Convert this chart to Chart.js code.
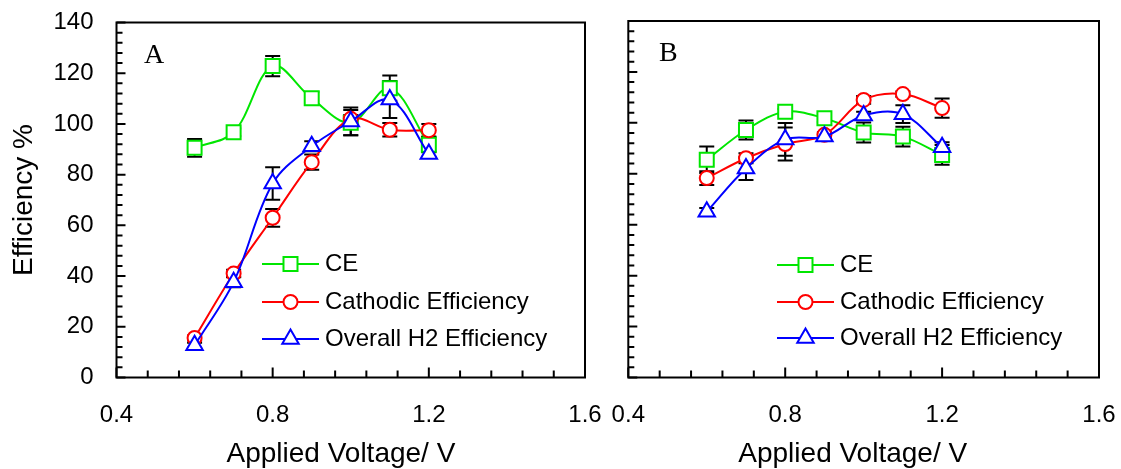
<!DOCTYPE html>
<html>
<head>
<meta charset="utf-8">
<title>Efficiency vs Applied Voltage</title>
<script src="https://cdn.jsdelivr.net/npm/chart.js@4.4.1/dist/chart.umd.min.js"></script>
<style>
  html, body { margin: 0; padding: 0; background: #fff; }
  #wrap { position: relative; width: 1121px; height: 469px; overflow: hidden; }
  #wrap canvas { position: absolute; top: 0; }
</style>
</head>
<body>
<div id="wrap">
  <canvas id="chartA" width="610" height="469" style="left:0"></canvas>
  <canvas id="chartB" width="525" height="469" style="left:596px"></canvas>
</div>
<script>
// applied voltage (V), same for both panels
const voltage = [0.6, 0.7, 0.8, 0.9, 1.0, 1.1, 1.2];

// panel A
const ceA        = [90.6, 96.7, 122.8, 110.1, 100.5, 114.1, 91.8];
const ceErrA     = [3.5, 1.5, 4.0, 2.5, 5.0, 5.0, 3.0];
const cathodicA  = [15.6, 41.0, 63.0, 84.9, 102.0, 97.7, 97.5];
const cathErrA   = [1.0, 1.5, 3.5, 3.0, 1.5, 2.7, 2.5];
const h2A        = [12.7, 37.6, 76.5, 91.2, 101.0, 109.6, 88.1];
const h2ErrA     = [1.0, 2.0, 6.4, 2.0, 5.5, 7.3, 1.0];

// panel B
const ceB        = [85.5, 97.2, 104.4, 101.8, 96.2, 94.6, 87.4];
const ceErrB     = [5.2, 3.7, 1.0, 1.5, 3.9, 3.9, 3.9];
const cathodicB  = [78.3, 86.1, 91.7, 95.3, 109.0, 111.3, 105.8];
const cathErrB   = [2.7, 2.0, 6.5, 1.0, 1.5, 1.0, 3.8];
const h2B        = [65.1, 82.1, 93.5, 94.6, 102.9, 103.4, 90.4];
const h2ErrB     = [1.5, 4.5, 6.4, 1.0, 1.5, 3.5, 2.0];

const seriesNames = ['CE', 'Cathodic Efficiency', 'Overall H2 Efficiency'];
const xTitle = 'Applied Voltage/ V';
const yTitle = 'Efficiency %';

const GREEN = '#00e600', RED = '#ff0000', BLUE = '#0000ff';
const FONT = '"Liberation Sans", Arial, sans-serif';

const isMajorX = v => Math.round(v * 100) % 40 === 0;
const isMajorY = v => Math.round(v) % 20 === 0;

function drawMarker(ctx, style, x, y, r, color) {
  ctx.save();
  ctx.fillStyle = '#fff';
  ctx.strokeStyle = color;
  ctx.lineWidth = 2;
  ctx.beginPath();
  if (style === 'circle') {
    ctx.arc(x, y, r, 0, Math.PI * 2);
  } else if (style === 'rect') {
    const s = Math.SQRT1_2 * r;
    ctx.rect(x - s, y - s, 2 * s, 2 * s);
  } else {
    ctx.moveTo(x, y - r);
    ctx.lineTo(x + r * Math.sin(2 * Math.PI / 3), y + r / 2);
    ctx.lineTo(x - r * Math.sin(2 * Math.PI / 3), y + r / 2);
    ctx.closePath();
  }
  ctx.fill();
  ctx.stroke();
  ctx.restore();
}

function panelPlugin(cfg) {
  return {
    id: 'panel' + cfg.letter,
    beforeDatasetsDraw(chart) {
      const { ctx, scales: { x, y } } = chart;
      ctx.save();
      ctx.strokeStyle = '#000';
      ctx.lineWidth = 2;
      cfg.series.forEach(s => {
        voltage.forEach((v, i) => {
          const e = s.err[i];
          const px = x.getPixelForValue(v);
          const top = y.getPixelForValue(s.values[i] + e);
          const bot = y.getPixelForValue(s.values[i] - e);
          ctx.beginPath();
          ctx.moveTo(px, top); ctx.lineTo(px, bot);
          ctx.moveTo(px - 7.5, top); ctx.lineTo(px + 7.5, top);
          ctx.moveTo(px - 7.5, bot); ctx.lineTo(px + 7.5, bot);
          ctx.stroke();
        });
      });
      ctx.restore();
    },
    afterDraw(chart) {
      const { ctx, chartArea: a, scales: { x, y } } = chart;
      ctx.save();
      // frame
      ctx.strokeStyle = '#000';
      ctx.lineWidth = 2;
      ctx.strokeRect(a.left, a.top, a.right - a.left, a.bottom - a.top);

      // inward ticks
      ctx.beginPath();
      y.ticks.forEach(t => {
        const py = y.getPixelForValue(t.value);
        const len = isMajorY(t.value) ? 9 : 6;
        ctx.moveTo(a.left, py); ctx.lineTo(a.left + len, py);
      });
      x.ticks.forEach(t => {
        const px = x.getPixelForValue(t.value);
        const len = isMajorX(t.value) ? 10 : 7;
        ctx.moveTo(px, a.bottom); ctx.lineTo(px, a.bottom - len);
      });
      ctx.stroke();

      // tick labels
      ctx.fillStyle = '#000';
      ctx.font = '24px ' + FONT;
      ctx.textBaseline = 'middle';
      ctx.textAlign = 'center';
      x.ticks.forEach(t => {
        if (isMajorX(t.value)) ctx.fillText(t.value.toFixed(1), x.getPixelForValue(t.value), 415);
      });
      if (cfg.yLabels) {
        ctx.textAlign = 'right';
        y.ticks.forEach(t => {
          if (isMajorY(t.value)) ctx.fillText(String(Math.round(t.value)), a.left - 23, y.getPixelForValue(t.value));
        });
      }

      // panel letter
      ctx.font = '28px "Liberation Serif", "Times New Roman", serif';
      ctx.textBaseline = 'alphabetic';
      ctx.textAlign = 'left';
      ctx.fillText(cfg.letter, cfg.letterX, cfg.letterY);

      // x title
      ctx.font = '28px ' + FONT;
      ctx.fillText(xTitle, a.left + 110, 462);

      // y title (panel A only)
      if (cfg.yTitle) {
        ctx.save();
        ctx.translate(24, (a.top + a.bottom) / 2);
        ctx.rotate(-Math.PI / 2);
        ctx.textAlign = 'center';
        ctx.textBaseline = 'middle';
        ctx.fillText(yTitle, 0, 0);
        ctx.restore();
      }

      // legend
      ctx.font = '24px ' + FONT;
      ctx.textBaseline = 'middle';
      cfg.series.forEach((s, i) => {
        const ly = cfg.legendY[i];
        ctx.strokeStyle = s.color;
        ctx.lineWidth = 2;
        ctx.beginPath();
        ctx.moveTo(cfg.legendX, ly);
        ctx.lineTo(cfg.legendX + 57, ly);
        ctx.stroke();
        drawMarker(ctx, s.marker, cfg.legendX + 28.5, ly, s.radius, s.color);
        ctx.fillStyle = '#000';
        ctx.fillText(seriesNames[i], cfg.legendX + 63, ly);
      });
      ctx.restore();
    }
  };
}

function makeChart(id, cfg) {
  const datasets = cfg.series.map(s => ({
    label: s.name,
    data: voltage.map((v, i) => ({ x: v, y: s.values[i] })),
    borderColor: s.color,
    borderWidth: 2,
    backgroundColor: '#fff',
    pointStyle: s.marker,
    pointRadius: s.radius,
    pointBorderWidth: 2,
    pointBackgroundColor: '#fff',
    pointBorderColor: s.color,
    tension: 0.35,
    order: s.order,
    clip: false
  }));

  return new Chart(document.getElementById(id), {
    type: 'line',
    data: { datasets },
    options: {
      responsive: false,
      animation: false,
      devicePixelRatio: 1,
      layout: { padding: { top: cfg.top, right: cfg.right, left: 0, bottom: 0 } },
      plugins: { legend: { display: false }, tooltip: { enabled: false } },
      scales: {
        x: {
          type: 'linear',
          min: 0.4, max: 1.6,
          grid: { display: false, drawTicks: false },
          border: { display: false },
          afterFit: sc => { sc.height = 469 - 377.5; },
          ticks: { display: false, stepSize: 0.08, autoSkip: false }
        },
        y: {
          min: 0, max: 140,
          grid: { display: false, drawTicks: false },
          border: { display: false },
          afterFit: sc => { sc.width = cfg.yWidth; },
          ticks: { display: false, stepSize: 4, autoSkip: false }
        }
      }
    },
    plugins: [panelPlugin(cfg)]
  });
}

function seriesFor(ce, ceErr, cath, cathErr, h2, h2Err) {
  return [
    { name: seriesNames[0], values: ce,   err: ceErr,   color: GREEN, marker: 'rect',     radius: 9.9, order: 2 },
    { name: seriesNames[1], values: cath, err: cathErr, color: RED,   marker: 'circle',   radius: 7,   order: 1 },
    { name: seriesNames[2], values: h2,   err: h2Err,   color: BLUE,  marker: 'triangle', radius: 9.5, order: 0 }
  ];
}

makeChart('chartA', {
  letter: 'A', letterX: 144, letterY: 63,
  top: 22.5, right: 25, yWidth: 116.5, yLabels: true, yTitle: true,
  legendX: 262, legendY: [264, 302, 339],
  series: seriesFor(ceA, ceErrA, cathodicA, cathErrA, h2A, h2ErrA)
});

makeChart('chartB', {
  letter: 'B', letterX: 63, letterY: 61,
  top: 21, right: 22, yWidth: 32.3, yLabels: false, yTitle: false,
  legendX: 181, legendY: [265, 302, 338],
  series: seriesFor(ceB, ceErrB, cathodicB, cathErrB, h2B, h2ErrB)
});
</script>
</body>
</html>
